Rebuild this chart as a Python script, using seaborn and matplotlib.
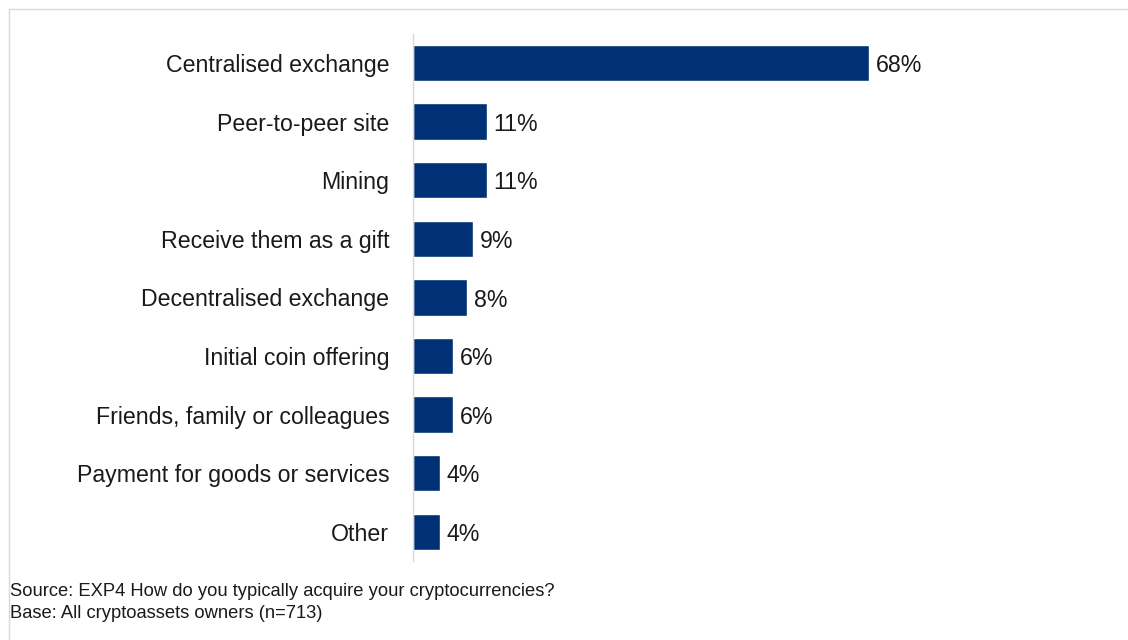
import matplotlib
matplotlib.use("Agg")
import matplotlib.pyplot as plt
from matplotlib.lines import Line2D
import seaborn as sns
import pandas as pd

# Survey responses: how cryptoasset owners typically acquire their holdings
categories = [
    "Centralised exchange",
    "Peer-to-peer site",
    "Mining",
    "Receive them as a gift",
    "Decentralised exchange",
    "Initial coin offering",
    "Friends, family or colleagues",
    "Payment for goods or services",
    "Other",
]
shares = [68, 11, 11, 9, 8, 6, 6, 4, 4]
source_note = "Source: EXP4 How do you typically acquire your cryptocurrencies?"
base_note = "Base: All cryptoassets owners (n=713)"

bar_color = "#003176"
frame_color = "#d9d9d9"

sns.set_theme(style="white")
plt.rcParams["font.family"] = ["Liberation Sans", "DejaVu Sans"]

df = pd.DataFrame({"method": categories, "share": shares})

fig = plt.figure(figsize=(11.28, 6.4), dpi=100)
fig.patch.set_facecolor("white")
ax = fig.add_axes([0.3661, 0.1234, 0.5949, 0.8239])

sns.barplot(data=df, x="share", y="method", orient="h", color=bar_color,
            saturation=1, width=0.62, ax=ax, order=categories)

ax.set_xlim(0, 100)
ax.set_ylim(len(categories) - 0.5, -0.5)
ax.set_xlabel("")
ax.set_ylabel("")
ax.set_xticks([])

for side in ["top", "right", "bottom"]:
    ax.spines[side].set_visible(False)
ax.spines["left"].set_color(frame_color)
ax.spines["left"].set_linewidth(1.0)

ax.tick_params(axis="y", length=0, pad=17, labelsize=16.7, labelcolor="#1a1a1a")

# Value labels at the end of each bar
for i, v in enumerate(shares):
    ax.annotate(f"{v}%", xy=(v, i), xytext=(5, -2), textcoords="offset points",
                ha="left", va="center", fontsize=16.7, color="#1a1a1a")

# Notes under the chart
fig.text(10 / 1128, 1 - 591 / 640, source_note, ha="left", va="center",
         fontsize=13.2, color="#1a1a1a")
fig.text(10 / 1128, 1 - 613 / 640, base_note, ha="left", va="center",
         fontsize=13.2, color="#1a1a1a")

# Light frame around the chart area
fig.add_artist(Line2D([9 / 1128, 1.0], [1 - 8.5 / 640, 1 - 8.5 / 640],
                      transform=fig.transFigure, color=frame_color, lw=1.0))
fig.add_artist(Line2D([9 / 1128, 9 / 1128], [0.0, 1 - 8.5 / 640],
                      transform=fig.transFigure, color=frame_color, lw=1.0))

fig.savefig("out.png", dpi=100, facecolor="white")
